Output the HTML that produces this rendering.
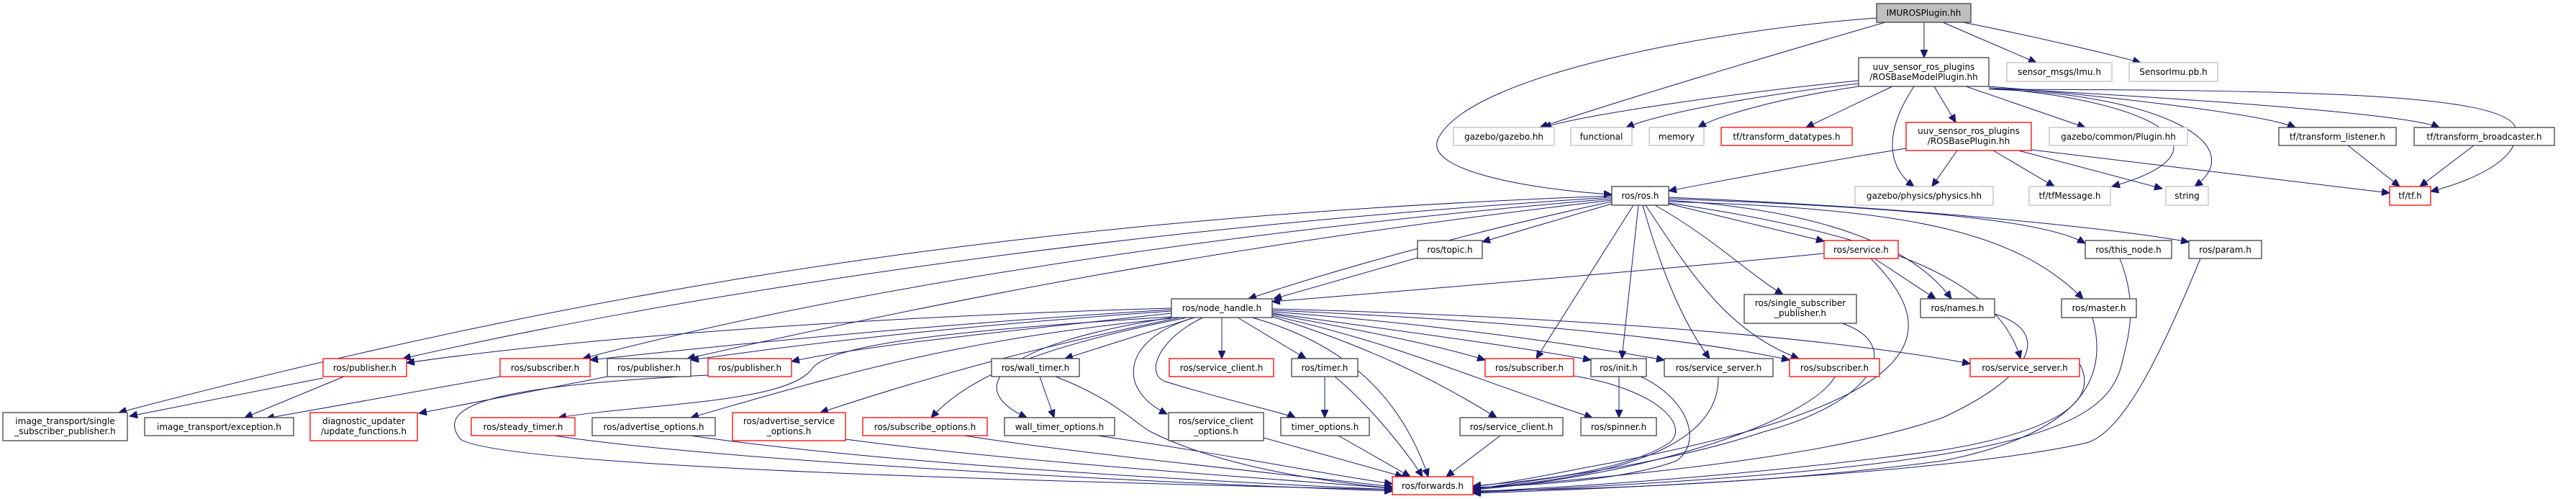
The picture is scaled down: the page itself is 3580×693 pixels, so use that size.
<!DOCTYPE html>
<html><head><meta charset="utf-8">
<style>
html,body{margin:0;padding:0;background:#fff;}
svg{display:block;}
text{font-family:"DejaVu Sans","Liberation Sans",sans-serif;font-size:12px;fill:#000;}
.b rect{fill:#fff;stroke:#404040;stroke-width:1.3;}
.r rect{fill:#fff;stroke:#ff0000;stroke-width:1.3;}
.g rect{fill:#fff;stroke:#bfbfbf;stroke-width:1.3;}
.e path{fill:none;stroke:#191970;stroke-width:1;}
</style></head><body>
<svg width="3580" height="693" viewBox="0 0 3580 693" xmlns="http://www.w3.org/2000/svg">
<defs>
<marker id="a" markerUnits="userSpaceOnUse" markerWidth="12" markerHeight="10" refX="11" refY="5" orient="auto">
<path d="M0,0 L11,5 L0,10 Z" fill="#191970" stroke="#191970"/>
</marker>
</defs>
<g class="e" marker-end="url(#a)">
<path d="M2674,31 L2674,80"/>
<path d="M2620,31 C2450,80 2250,140 2140,177"/>
<path d="M2608,25 C2400,40 2050,100 2000,190 C1970,240 2150,265 2240,270"/>
<path d="M2700,31 L2830,87"/>
<path d="M2728,31 C2850,55 2950,80 2975,87"/>
<path d="M2583,112 C2400,130 2200,160 2145,177"/>
<path d="M2583,116 C2420,135 2300,160 2260,177"/>
<path d="M2583,120 C2450,140 2380,165 2360,177"/>
<path d="M2630,120 L2510,177"/>
<path d="M2688,120 L2718,170"/>
<path d="M2660,120 C2620,180 2620,230 2660,259"/>
<path d="M2732,120 L2898,177"/>
<path d="M2764,122 C3000,140 3110,210 2935,259"/>
<path d="M2764,124 C3000,130 3130,200 3050,259"/>
<path d="M2764,120 C2950,135 3150,160 3190,177"/>
<path d="M2764,122 C3100,140 3350,160 3390,177"/>
<path d="M2764,124 C3200,125 3470,130 3495,175 C3510,225 3420,255 3378,266"/>
<path d="M2649,206 C2500,230 2400,250 2319,265"/>
<path d="M2720,209 L2685,259"/>
<path d="M2770,209 L2855,259"/>
<path d="M2805,209 L3005,262"/>
<path d="M2823,208 L3321,268"/>
<path d="M3263,202 L3335,259"/>
<path d="M3438,202 L3363,259"/>
<path d="M2240,283 L2060,336"/>
<path d="M2240,280 C2100,310 1900,360 1735,415"/>
<path d="M1970,358 L1770,415"/>
<path d="M2535,352 C2300,375 2000,400 1768,419"/>
<path d="M2319,283 L2535,335"/>
<path d="M2319,278 C2500,290 2650,330 2712,415"/>
<path d="M2605,359 L2690,415"/>
<path d="M2600,359 C2700,460 2700,560 2200,650 C2100,670 2060,675 2047,675"/>
<path d="M2300,285 C2380,330 2430,380 2478,409"/>
<path d="M2319,276 C2700,290 2850,310 2898,338"/>
<path d="M2319,274 C2700,290 2950,320 3042,336"/>
<path d="M2319,280 C2650,290 2800,320 2895,415"/>
<path d="M2319,282 C2650,330 2780,400 2808,498"/>
<path d="M2270,285 L2135,498"/>
<path d="M2277,285 L2254,498"/>
<path d="M2283,285 C2310,380 2340,450 2376,498"/>
<path d="M2287,285 C2350,380 2400,460 2500,498"/>
<path d="M2240,272 C1500,300 900,380 165,573"/>
<path d="M2240,274 C1500,320 900,420 560,498"/>
<path d="M2240,276 C1600,330 1100,420 810,498"/>
<path d="M2240,278 C1700,340 1300,420 955,498"/>
<path d="M1628,428 C1200,440 800,470 565,504"/>
<path d="M1628,430 C1300,450 1000,480 820,500"/>
<path d="M1628,432 C1300,455 1100,480 960,500"/>
<path d="M1628,435 C1400,460 1200,480 1100,502"/>
<path d="M1660,441 L1480,498"/>
<path d="M1698,441 L1698,498"/>
<path d="M1720,441 L1815,498"/>
<path d="M1768,436 C1900,460 2000,480 2064,500"/>
<path d="M1768,435 C1950,460 2100,480 2211,500"/>
<path d="M1768,433 C2000,450 2200,480 2313,500"/>
<path d="M1768,431 C2100,445 2350,470 2487,500"/>
<path d="M1768,429 C2200,440 2550,470 2738,505"/>
<path d="M1628,440 C1300,460 1160,480 1130,510 C1100,560 900,560 776,580"/>
<path d="M1628,442 C1350,470 1200,510 960,580"/>
<path d="M1640,441 C1450,480 1300,520 1140,573"/>
<path d="M1650,441 C1450,480 1350,520 1294,580"/>
<path d="M1628,441 C1380,480 1340,540 1427,580"/>
<path d="M1660,441 C1560,470 1550,540 1622,575"/>
<path d="M1672,441 C1610,470 1590,520 1620,530 C1700,555 1790,575 1800,580"/>
<path d="M1740,441 C1880,480 1950,560 1985,662"/>
<path d="M1768,440 C1900,480 2000,530 2080,580"/>
<path d="M1768,438 C1950,480 2030,520 2213,580"/>
<path d="M449,525 L180,578"/>
<path d="M478,523 L340,580"/>
<path d="M695,523 L370,581"/>
<path d="M844,523 L582,574"/>
<path d="M984,521 C700,535 600,560 640,610 C700,650 1500,670 1935,680"/>
<path d="M1445,523 L1465,580"/>
<path d="M1467,523 C1550,555 1580,590 1600,600 C1700,650 1850,670 1935,678"/>
<path d="M1841,523 L1841,580"/>
<path d="M1855,523 C1900,560 1950,620 1977,662"/>
<path d="M2187,522 C2300,540 2350,590 2320,615 C2250,660 2100,670 2047,675"/>
<path d="M2250,523 L2250,580"/>
<path d="M2280,523 C2340,550 2370,610 2330,640 C2250,670 2100,675 2047,677"/>
<path d="M2388,523 C2390,600 2300,660 2047,678"/>
<path d="M2550,523 C2520,580 2300,660 2047,680"/>
<path d="M2560,449 C2650,480 2600,560 2450,600 C2300,650 2100,670 2047,680"/>
<path d="M2772,436 C2850,460 2830,520 2700,580 C2500,650 2100,670 2047,681"/>
<path d="M2908,441 C2930,520 2900,600 2700,640 C2400,680 2100,680 2047,682"/>
<path d="M2946,359 C2970,420 2960,460 2950,500 C2930,600 2800,650 2047,684"/>
<path d="M3058,359 C3000,500 2950,600 2900,615 C2700,660 2200,680 2047,685"/>
<path d="M2890,505 C2920,560 2850,600 2700,625 C2400,665 2150,678 2047,683"/>
<path d="M2085,605 L2010,662"/>
<path d="M1756,608 L1950,662"/>
<path d="M1860,605 L1960,662"/>
<path d="M1525,605 C1700,630 1850,660 1935,672"/>
<path d="M770,605 C1000,640 1600,670 1935,682"/>
<path d="M960,605 C1200,640 1600,665 1935,680"/>
<path d="M1175,610 C1400,640 1700,660 1935,678"/>
<path d="M1340,605 C1500,630 1800,660 1935,676"/>
</g>

<!-- nodes -->
<g class="b"><rect x="2608" y="5" width="131" height="26" style="fill:#bfbfbf"/><text x="2673.5" y="22" text-anchor="middle">IMUROSPlugin.hh</text></g>
<g class="b"><rect x="2583" y="80" width="181" height="40"/><text x="2673.5" y="97" text-anchor="middle">uuv_sensor_ros_plugins</text><text x="2673.5" y="111" text-anchor="middle">/ROSBaseModelPlugin.hh</text></g>
<g class="g"><rect x="2789" y="87" width="146" height="26"/><text x="2862" y="104" text-anchor="middle">sensor_msgs/Imu.h</text></g>
<g class="g"><rect x="2959" y="87" width="123" height="26"/><text x="3020.5" y="104" text-anchor="middle">SensorImu.pb.h</text></g>
<g class="g"><rect x="2020" y="177" width="140" height="25"/><text x="2090" y="194" text-anchor="middle">gazebo/gazebo.hh</text></g>
<g class="g"><rect x="2183" y="177" width="85" height="25"/><text x="2225.5" y="194" text-anchor="middle">functional</text></g>
<g class="g"><rect x="2292" y="177" width="76" height="25"/><text x="2330" y="194" text-anchor="middle">memory</text></g>
<g class="r"><rect x="2392" y="177" width="182" height="25"/><text x="2483" y="194" text-anchor="middle">tf/transform_datatypes.h</text></g>
<g class="r"><rect x="2649" y="170" width="174" height="39"/><text x="2736" y="186" text-anchor="middle">uuv_sensor_ros_plugins</text><text x="2736" y="200" text-anchor="middle">/ROSBasePlugin.hh</text></g>
<g class="g"><rect x="2848" y="177" width="192" height="25"/><text x="2944" y="194" text-anchor="middle">gazebo/common/Plugin.hh</text></g>
<g class="b"><rect x="3167" y="177" width="163" height="25"/><text x="3248.5" y="194" text-anchor="middle">tf/transform_listener.h</text></g>
<g class="b"><rect x="3355" y="177" width="195" height="25"/><text x="3452.5" y="194" text-anchor="middle">tf/transform_broadcaster.h</text></g>
<g class="b"><rect x="2240" y="259" width="79" height="26"/><text x="2279.5" y="276" text-anchor="middle">ros/ros.h</text></g>
<g class="g"><rect x="2578" y="259" width="192" height="26"/><text x="2674" y="276" text-anchor="middle">gazebo/physics/physics.hh</text></g>
<g class="g"><rect x="2820" y="259" width="113" height="26"/><text x="2876.5" y="276" text-anchor="middle">tf/tfMessage.h</text></g>
<g class="g"><rect x="3010" y="259" width="59" height="26"/><text x="3039.5" y="276" text-anchor="middle">string</text></g>
<g class="r"><rect x="3321" y="259" width="57" height="26"/><text x="3349.5" y="276" text-anchor="middle">tf/tf.h</text></g>
<g class="b"><rect x="1970" y="334" width="90" height="25"/><text x="2015" y="351" text-anchor="middle">ros/topic.h</text></g>
<g class="r"><rect x="2535" y="334" width="103" height="25"/><text x="2586.5" y="351" text-anchor="middle">ros/service.h</text></g>
<g class="b"><rect x="2898" y="334" width="120" height="25"/><text x="2958" y="351" text-anchor="middle">ros/this_node.h</text></g>
<g class="b"><rect x="3042" y="334" width="101" height="25"/><text x="3092.5" y="351" text-anchor="middle">ros/param.h</text></g>
<g class="b"><rect x="1628" y="415" width="140" height="26"/><text x="1698" y="432" text-anchor="middle">ros/node_handle.h</text></g>
<g class="b"><rect x="2424" y="409" width="156" height="40"/><text x="2502" y="425" text-anchor="middle">ros/single_subscriber</text><text x="2502" y="439" text-anchor="middle">_publisher.h</text></g>
<g class="b"><rect x="2669" y="415" width="103" height="26"/><text x="2720.5" y="432" text-anchor="middle">ros/names.h</text></g>
<g class="b"><rect x="2865" y="415" width="104" height="26"/><text x="2917" y="432" text-anchor="middle">ros/master.h</text></g>

<g class="r"><rect x="449" y="498" width="116" height="25"/><text x="507" y="515" text-anchor="middle">ros/publisher.h</text></g>
<g class="r"><rect x="695" y="498" width="125" height="25"/><text x="757.5" y="515" text-anchor="middle">ros/subscriber.h</text></g>
<g class="b"><rect x="844" y="498" width="116" height="25"/><text x="902" y="515" text-anchor="middle">ros/publisher.h</text></g>
<g class="r"><rect x="984" y="498" width="116" height="25"/><text x="1042" y="515" text-anchor="middle">ros/publisher.h</text></g>
<g class="b"><rect x="1378" y="498" width="122" height="25"/><text x="1439" y="515" text-anchor="middle">ros/wall_timer.h</text></g>
<g class="r"><rect x="1625" y="498" width="145" height="25"/><text x="1697.5" y="515" text-anchor="middle">ros/service_client.h</text></g>
<g class="b"><rect x="1795" y="498" width="92" height="25"/><text x="1841" y="515" text-anchor="middle">ros/timer.h</text></g>
<g class="r"><rect x="2064" y="498" width="123" height="25"/><text x="2125.5" y="515" text-anchor="middle">ros/subscriber.h</text></g>
<g class="b"><rect x="2211" y="498" width="77" height="25"/><text x="2249.5" y="515" text-anchor="middle">ros/init.h</text></g>
<g class="b"><rect x="2313" y="498" width="151" height="25"/><text x="2388.5" y="515" text-anchor="middle">ros/service_server.h</text></g>
<g class="r"><rect x="2487" y="498" width="125" height="25"/><text x="2549.5" y="515" text-anchor="middle">ros/subscriber.h</text></g>
<g class="r"><rect x="2738" y="498" width="152" height="25"/><text x="2814" y="515" text-anchor="middle">ros/service_server.h</text></g>

<g class="b"><rect x="4" y="573" width="173" height="39"/><text x="90.5" y="589" text-anchor="middle">image_transport/single</text><text x="90.5" y="603" text-anchor="middle">_subscriber_publisher.h</text></g>
<g class="b"><rect x="201" y="580" width="207" height="25"/><text x="304.5" y="597" text-anchor="middle">image_transport/exception.h</text></g>
<g class="r"><rect x="431" y="573" width="149" height="39"/><text x="505.5" y="589" text-anchor="middle">diagnostic_updater</text><text x="505.5" y="603" text-anchor="middle">/update_functions.h</text></g>
<g class="r"><rect x="655" y="580" width="144" height="25"/><text x="727" y="597" text-anchor="middle">ros/steady_timer.h</text></g>
<g class="b"><rect x="823" y="580" width="171" height="25"/><text x="908.5" y="597" text-anchor="middle">ros/advertise_options.h</text></g>
<g class="r"><rect x="1018" y="573" width="157" height="39"/><text x="1096.5" y="589" text-anchor="middle">ros/advertise_service</text><text x="1096.5" y="603" text-anchor="middle">_options.h</text></g>
<g class="r"><rect x="1199" y="580" width="173" height="25"/><text x="1285.5" y="597" text-anchor="middle">ros/subscribe_options.h</text></g>
<g class="b"><rect x="1396" y="580" width="153" height="25"/><text x="1472.5" y="597" text-anchor="middle">wall_timer_options.h</text></g>
<g class="b"><rect x="1624" y="573" width="132" height="39"/><text x="1690" y="589" text-anchor="middle">ros/service_client</text><text x="1690" y="603" text-anchor="middle">_options.h</text></g>
<g class="b"><rect x="1780" y="580" width="123" height="25"/><text x="1841.5" y="597" text-anchor="middle">timer_options.h</text></g>
<g class="b"><rect x="2029" y="580" width="143" height="25"/><text x="2100.5" y="597" text-anchor="middle">ros/service_client.h</text></g>
<g class="b"><rect x="2197" y="580" width="105" height="25"/><text x="2249.5" y="597" text-anchor="middle">ros/spinner.h</text></g>
<g class="r"><rect x="1935" y="662" width="112" height="25"/><text x="1991" y="679" text-anchor="middle">ros/forwards.h</text></g>
</svg>
</body></html>
